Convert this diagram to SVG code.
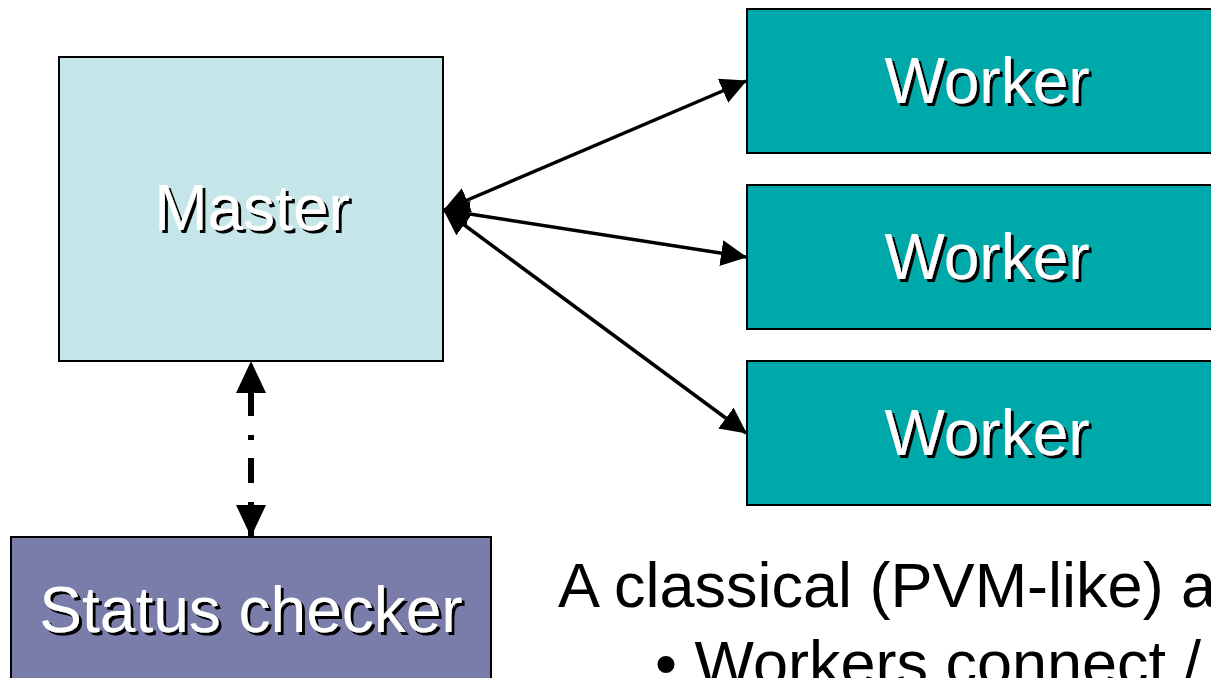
<svg xmlns="http://www.w3.org/2000/svg" width="1211" height="678" viewBox="0 0 1211 678">
  <style>
    .box { stroke: #000; stroke-width: 2; }
    .master { fill: #C4E6E8; }
    .worker { fill: #00A9A9; }
    .status { fill: #7A7CA9; }
    .lbl { font-family: "Liberation Sans", Arial, sans-serif; font-size: 64px; text-anchor: middle; fill: #fff; filter: url(#drop); }
    .link { stroke: #000; stroke-width: 3.5; fill: none; }
    .poll { stroke: #000; stroke-width: 6; fill: none; stroke-dasharray: 25 19 5 18; stroke-dashoffset: 38; }
    .note { font-family: "Liberation Sans", Arial, sans-serif; font-size: 63px; fill: #000; }
  </style>
  <defs>
    <!-- hard black drop shadow behind the white box labels -->
    <filter id="drop" x="-10%" y="-20%" width="120%" height="140%">
      <feDropShadow dx="3" dy="3" stdDeviation="0" flood-color="#000" flood-opacity="1"/>
    </filter>
    <marker id="head" markerUnits="userSpaceOnUse" markerWidth="27" markerHeight="26" refX="25" refY="13" orient="auto-start-reverse">
      <path d="M0,0 L26,13 L0,26 z" fill="#000"/>
    </marker>
    <marker id="headBig" markerUnits="userSpaceOnUse" markerWidth="32" markerHeight="30" refX="31" refY="15" orient="auto-start-reverse">
      <path d="M0,0 L32,15 L0,30 z" fill="#000"/>
    </marker>
  </defs>

  <g id="master">
    <rect class="box master" x="59" y="57" width="384" height="304"/>
    <text class="lbl" x="252" y="230">Master</text>
  </g>

  <g id="worker1">
    <rect class="box worker" x="747" y="9" width="480" height="144"/>
    <text class="lbl" x="987" y="103">Worker</text>
  </g>

  <g id="worker2">
    <rect class="box worker" x="747" y="185" width="480" height="144"/>
    <text class="lbl" x="987" y="279">Worker</text>
  </g>

  <g id="worker3">
    <rect class="box worker" x="747" y="361" width="480" height="144"/>
    <text class="lbl" x="987" y="455">Worker</text>
  </g>

  <g id="status-checker">
    <rect class="box status" x="11" y="537" width="480" height="160"/>
    <text class="lbl" x="251" y="632">Status checker</text>
  </g>

  <g id="connectors">
    <line class="link" x1="444" y1="210" x2="746" y2="81" marker-start="url(#head)" marker-end="url(#head)"/>
    <line class="link" x1="444" y1="210" x2="746" y2="257" marker-start="url(#head)" marker-end="url(#head)"/>
    <line class="link" x1="444" y1="210" x2="746" y2="433" marker-start="url(#head)" marker-end="url(#head)"/>
    <line class="poll" x1="251" y1="362" x2="251" y2="536" marker-start="url(#headBig)" marker-end="url(#headBig)"/>
  </g>

  <g id="notes">
    <text class="note" x="558" y="607">A classical (PVM-like) a</text>
    <text class="note" x="655" y="685">• Workers connect /</text>
  </g>
</svg>
